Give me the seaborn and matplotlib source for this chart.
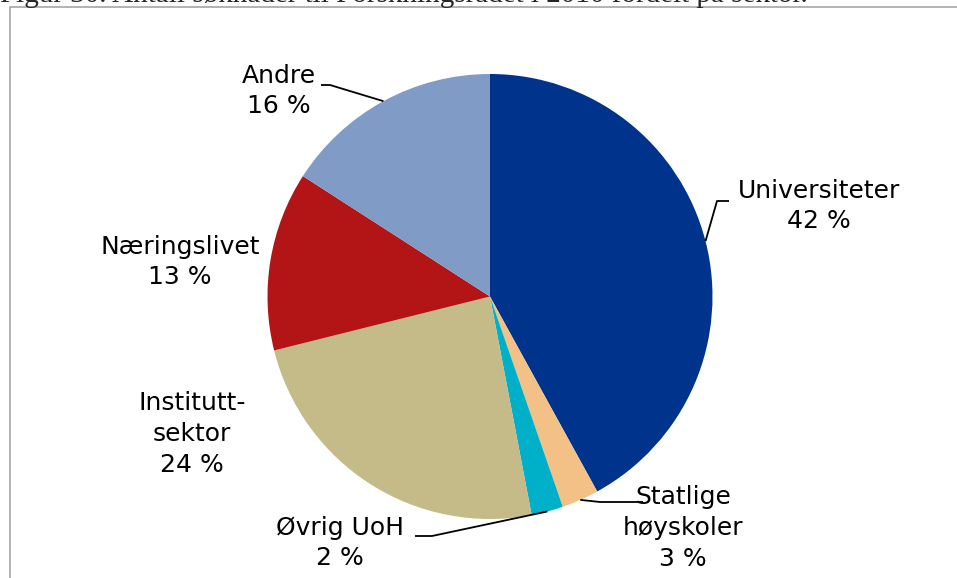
import numpy as np
import matplotlib
matplotlib.use("Agg")
import matplotlib.pyplot as plt
import seaborn as sns

# share of applications per sector
sectors = ["Universiteter", "Statlige\nhøyskoler", "Øvrig UoH", "Institutt-\nsektor", "Næringslivet", "Andre"]
shares = [42.0, 2.7, 2.3, 24.1, 13.0, 15.9]
pct_labels = ["42 %", "3 %", "2 %", "24 %", "13 %", "16 %"]
colors = ["#00338B", "#F3C185", "#00AFC8", "#C4BB88", "#B31517", "#7F9BC6"]

title = "Figur 30. Antall søknader til Forskningsrådet i 2010 fordelt på sektor."

sns.set_style("white")
plt.rcParams["font.family"] = ["DejaVu Sans"]

W, H = 957, 578
fig = plt.figure(figsize=(W / 100, H / 100), dpi=100)
ax = fig.add_axes([0, 0, 1, 1])

# frame around the chart area
fig.patches.append(plt.Rectangle((10 / W, -0.1), 1.2, 1.1 - 7 / H, transform=fig.transFigure,
                                 fill=False, edgecolor="#A6A6A6", lw=1.2))
# caption sits above the frame and is mostly cut off, as in the source
fig.text(0.0, 1 - 2.5 / H, title, family="Liberation Serif", fontsize=21, va="baseline", ha="left")

cx, cy, r = 490, 296.5, 222.5
# y axis is flipped, so counterclock=True draws clockwise on screen
wedges, _ = ax.pie(shares, colors=colors, startangle=-90, counterclock=True,
                   center=(cx, cy), radius=r, frame=True,
                   wedgeprops=dict(linewidth=0))
ax.set_xlim(0, W)
ax.set_ylim(H, 0)
ax.set_aspect("equal")
ax.axis("off")

# label text positions and leader elbows (pixels)
text_pos = [(819, 206), (683, 528), (340, 543), (192, 434), (180, 262), (279, 91)]
elbows = [(717, 201), (600, 502), (432, 536), None, None, (330, 85)]
line_end = [(729, 201), (643, 502), (415, 536), None, None, (321, 85)]

cum = np.cumsum([0] + shares)
for i, name in enumerate(sectors):
    ax.text(*text_pos[i], f"{name}\n{pct_labels[i]}", ha="center", va="center",
            fontsize=18, linespacing=1.35, color="#000000")
    if elbows[i] is not None:
        mid = (cum[i] + cum[i + 1]) / 2 / 100 * 2 * np.pi
        x0, y0 = cx + r * np.sin(mid), cy - r * np.cos(mid)
        ax.plot([x0, elbows[i][0], line_end[i][0]], [y0, elbows[i][1], line_end[i][1]],
                color="black", lw=1.3, solid_capstyle="butt")

fig.savefig("out.png", dpi=100)
